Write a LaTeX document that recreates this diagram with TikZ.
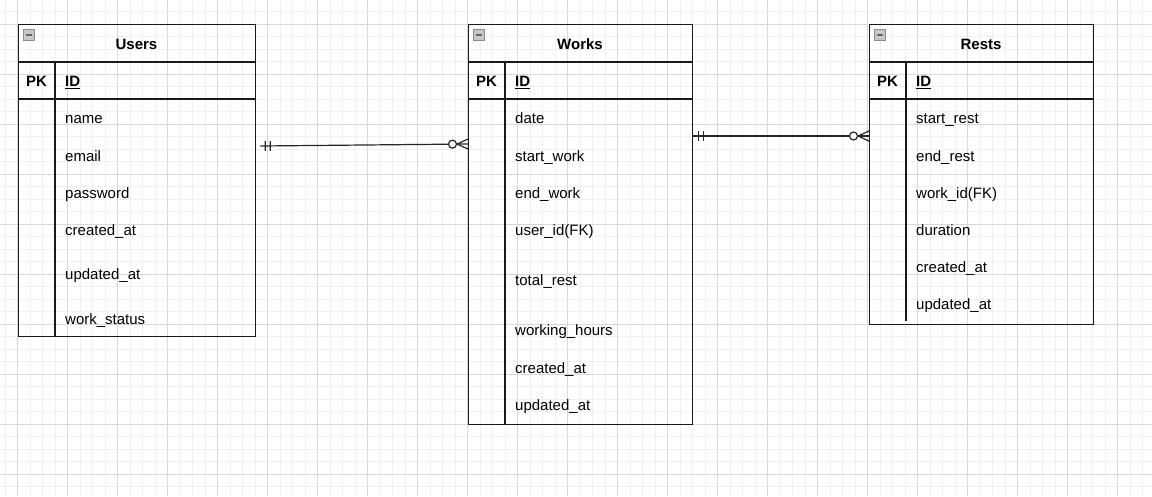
\documentclass[tikz,border=0pt]{standalone}
\usepackage{fontspec}
\setmainfont{Liberation Sans}
\usetikzlibrary{calc}

\tikzset{
  minorgrid/.style={draw=black!6, line width=0.8pt},
  majorgrid/.style={draw=black!15, line width=0.8pt},
  tableframe/.style={draw=black!90, line width=1.3pt, inner sep=0pt, anchor=north west},
  rule/.style={draw=black!90, line width=1.3pt},
  field/.style={anchor=west, inner sep=0pt, text height=11pt, text depth=3pt,
                font=\fontsize{15pt}{18pt}\selectfont},
  keyfield/.style={field, font=\fontsize{15pt}{18pt}\selectfont\bfseries},
  title/.style={anchor=center, inner sep=0pt, text height=11pt, text depth=3pt,
                font=\fontsize{15pt}{18pt}\selectfont\bfseries},
  rel/.style={draw=black!85, line width=1.2pt},
}

% collapse icon in the top-left corner of a table
\newcommand\collapseicon[1]{%
  \draw[draw=black!45, fill=black!22, line width=0.9pt]
    ($(#1.north west)+(5.5,5.5)$) rectangle ++(11,11);
  \draw[draw=black!60, line width=1.8pt]
    ($(#1.north west)+(8,11)$) -- ++(6,0);
}

% one-and-only-one at the first end, zero-or-many at the second end
\newcommand\erlink[2]{%
  \draw[rel] (#1) -- (#2);
  \coordinate (er-t1) at ($(#1)!5pt!(#2)$);
  \coordinate (er-t2) at ($(#1)!10pt!(#2)$);
  \coordinate (er-c) at ($(#2)!15.5pt!(#1)$);
  \coordinate (er-f) at ($(#2)!11pt!(#1)$);
  \draw[rel] ($(er-t1)!5pt!90:(#2)$) -- ($(er-t1)!5pt!-90:(#2)$);
  \draw[rel] ($(er-t2)!5pt!90:(#2)$) -- ($(er-t2)!5pt!-90:(#2)$);
  \draw[rel] ($(#2)!5pt!90:(#1)$) -- (er-f) -- ($(#2)!5pt!-90:(#1)$);
  \draw[rel, fill=white] (er-c) circle[radius=4pt];
}

\begin{document}
\begin{tikzpicture}[x=1pt, y=-1pt]
  \useasboundingbox (0,0) rectangle (1152,496);
  \fill[white] (0,0) rectangle (1152,496);

  % background grid
  \foreach \x in {5,17.5,...,1152} \draw[minorgrid] (\x,0) -- (\x,496);
  \foreach \y in {11.5,24,...,496} \draw[minorgrid] (0,\y) -- (1152,\y);
  \foreach \x in {17.5,67.5,...,1152} \draw[majorgrid] (\x,0) -- (\x,496);
  \foreach \y in {24,74,...,496} \draw[majorgrid] (0,\y) -- (1152,\y);

  % ---------------- Users ----------------
  \node[tableframe, minimum width=237pt, minimum height=312pt] (users) at (18,24) {};
  \draw[rule] (users.west |- 0,62) -- (users.east |- 0,62);
  \draw[rule] (users.west |- 0,99) -- (users.east |- 0,99);
  \draw[rule] (55,62) -- (55,336);
  \collapseicon{users}
  \node[title] (users-title) at (136.5,45) {Users};
  \node[title] (users-pk) at (36.5,82.7) {PK};
  \node[keyfield] (users-id) at (65,82.7) {\underline{ID}};
  \foreach \t/\y [count=\i] in {name/119.5, email/157, password/194.5,
      created\_at/231.5, updated\_at/275.5, work\_status/320}
    \node[field] (users-f\i) at (65,\y) {\t};

  % ---------------- Works ----------------
  \node[tableframe, minimum width=224pt, minimum height=400pt] (works) at (468,24) {};
  \draw[rule] (works.west |- 0,62) -- (works.east |- 0,62);
  \draw[rule] (works.west |- 0,99) -- (works.east |- 0,99);
  \draw[rule] (505,62) -- (505,424);
  \collapseicon{works}
  \node[title] (works-title) at (580,45) {Works};
  \node[title] (works-pk) at (486.5,82.7) {PK};
  \node[keyfield] (works-id) at (515,82.7) {\underline{ID}};
  \foreach \t/\y [count=\i] in {date/119.5, start\_work/157, end\_work/194.5,
      user\_id(FK)/231.5, total\_rest/281.5, working\_hours/331.5,
      created\_at/369.5, updated\_at/406.5}
    \node[field] (works-f\i) at (515,\y) {\t};

  % ---------------- Rests ----------------
  \node[tableframe, minimum width=224pt, minimum height=300pt] (rests) at (869,24) {};
  \draw[rule] (rests.west |- 0,62) -- (rests.east |- 0,62);
  \draw[rule] (rests.west |- 0,99) -- (rests.east |- 0,99);
  \draw[rule] (906,62) -- (906,321);
  \collapseicon{rests}
  \node[title] (rests-title) at (981,45) {Rests};
  \node[title] (rests-pk) at (887.5,82.7) {PK};
  \node[keyfield] (rests-id) at (916,82.7) {\underline{ID}};
  \foreach \t/\y [count=\i] in {start\_rest/119.5, end\_rest/157, work\_id(FK)/194.5,
      duration/231.5, created\_at/268.5, updated\_at/305.5}
    \node[field] (rests-f\i) at (916,\y) {\t};

  % ---------------- relations ----------------
  \coordinate (uw-a) at ($(users.north east)+(4,122)$);
  \coordinate (uw-b) at (works.west |- 0,144);
  \erlink{uw-a}{uw-b}

  \coordinate (wr-a) at ($(works.north east)+(0,112)$);
  \coordinate (wr-b) at (rests.west |- 0,136);
  \erlink{wr-a}{wr-b}
\end{tikzpicture}
\end{document}
